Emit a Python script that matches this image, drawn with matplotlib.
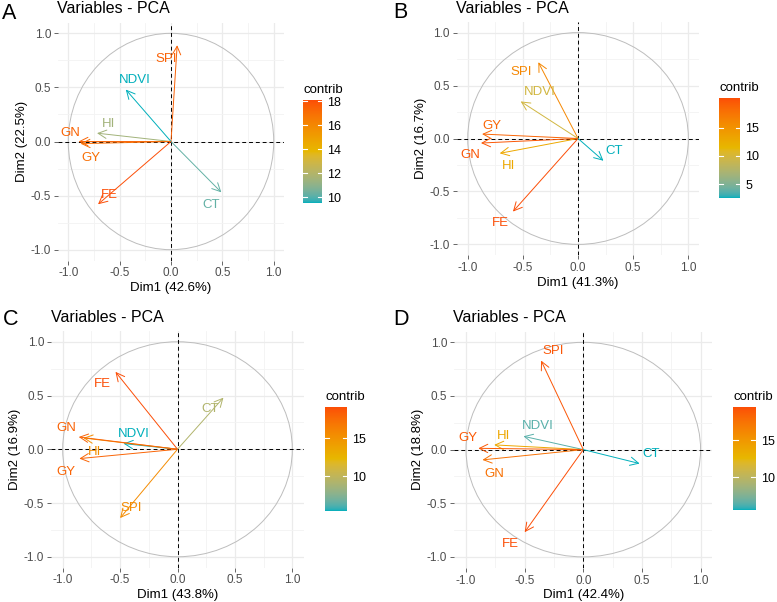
import numpy as np
import matplotlib
matplotlib.use("Agg")
import matplotlib.pyplot as plt
import matplotlib.colors as mcolors
from matplotlib.patches import Circle

plt.rcParams['font.family'] = ['Liberation Sans', 'DejaVu Sans']

# ---- data ----
variables = ["SPI", "NDVI", "HI", "GN", "GY", "FE", "CT"]

dim1_A = [0.06, -0.44, -0.72, -0.90, -0.88, -0.71, 0.49]
dim2_A = [0.89, 0.48, 0.077, 0.00, -0.02, -0.58, -0.47]
contrib_A = [17.5, 9.5, 11.5, 17.4, 17.0, 18.1, 10.2]

dim1_B = [-0.36, -0.52, -0.71, -0.88, -0.87, -0.59, 0.23]
dim2_B = [0.72, 0.35, -0.14, -0.043, 0.042, -0.69, -0.21]
contrib_B = [16.0, 9.7, 13.0, 19.6, 18.7, 20.2, 2.6]

dim1_C = [-0.50, -0.47, -0.82, -0.86, -0.855, -0.54, 0.40]
dim2_C = [-0.64, 0.053, 0.105, 0.114, -0.087, 0.72, 0.48]
contrib_C = [15.5, 5.4, 15.3, 18.1, 18.0, 19.1, 9.2]

dim1_D = [-0.36, -0.51, -0.76, -0.86, -0.895, -0.50, 0.48]
dim2_D = [0.83, 0.124, 0.044, -0.096, 0.012, -0.77, -0.13]
contrib_D = [19.1, 6.5, 13.9, 17.6, 18.9, 19.5, 5.6]

dim_pct = {"A": (42.6, 22.5), "B": (41.3, 16.7), "C": (43.8, 16.9), "D": (42.4, 18.8)}
cbar_ticks = {"A": [10, 12, 14, 16, 18], "B": [5, 10, 15], "C": [10, 15], "D": [10, 15]}

# label positions (repelled text, data units)
labels_A = [(-0.05, 0.76), (-0.35, 0.57), (-0.61, 0.16), (-0.98, 0.08), (-0.78, -0.15), (-0.60, -0.49), (0.39, -0.59)]
labels_B = [(-0.52, 0.63), (-0.35, 0.44), (-0.63, -0.26), (-0.98, -0.16), (-0.78, 0.12), (-0.70, -0.80), (0.33, -0.12)]
labels_C = [(-0.40, -0.55), (-0.38, 0.14), (-0.72, -0.025), (-0.97, 0.20), (-0.97, -0.21), (-0.65, 0.61), (0.28, 0.37)]
labels_D = [(-0.26, 0.92), (-0.39, 0.22), (-0.68, 0.13), (-0.76, -0.23), (-0.98, 0.11), (-0.62, -0.88), (0.58, -0.04)]

grad_cols = ["#00AFBB", "#E7B800", "#FC4E07"]


# ---- colour gradient interpolated in Lab, like ggplot ----
M = np.array([[0.4124, 0.3576, 0.1805], [0.2126, 0.7152, 0.0722], [0.0193, 0.1192, 0.9505]])
WHITE = np.array([0.95047, 1.0, 1.08883])


def to_lab(c):
    rgb = np.array(mcolors.to_rgb(c))
    lin = np.where(rgb > 0.04045, ((rgb + 0.055) / 1.055) ** 2.4, rgb / 12.92)
    xyz = M @ lin / WHITE
    f = np.where(xyz > 0.008856, np.cbrt(xyz), 7.787 * xyz + 16 / 116)
    return np.array([116 * f[1] - 16, 500 * (f[0] - f[1]), 200 * (f[1] - f[2])])


def from_lab(lab):
    fy = (lab[0] + 16) / 116
    f = np.array([fy + lab[1] / 500, fy, fy - lab[2] / 200])
    xyz = np.where(f ** 3 > 0.008856, f ** 3, (f - 16 / 116) / 7.787) * WHITE
    lin = np.linalg.solve(M, xyz)
    lin = np.clip(lin, 0, 1)
    rgb = np.where(lin > 0.0031308, 1.055 * lin ** (1 / 2.4) - 0.055, 12.92 * lin)
    return np.clip(rgb, 0, 1)


labs = [to_lab(c) for c in grad_cols]
samples = []
for t in np.linspace(0, 1, 256):
    s = t * (len(labs) - 1)
    i = min(int(s), len(labs) - 2)
    w = s - i
    samples.append(from_lab(labs[i] * (1 - w) + labs[i + 1] * w))
cmap = mcolors.ListedColormap(samples)

# ---- figure ----
W, H = 777, 602
fig = plt.figure(figsize=(W / 100, H / 100), dpi=100)


def px_axes(left, top, w, h):
    return fig.add_axes([left / W, 1 - (top + h) / H, w / W, h / H])


panels = [
    ("A", dim1_A, dim2_A, contrib_A, labels_A, (58, 22.5, 226, 238), (303, 100, 19, 103), (2, 19.3), (57, 12.7)),
    ("B", dim1_B, dim2_B, contrib_B, labels_B, (456.7, 22, 242.7, 233), (719, 98, 21, 100), (393, 18.3), (456, 13.3)),
    ("C", dim1_C, dim2_C, contrib_C, labels_C, (51.2, 331, 252.6, 236.5), (325, 407, 22, 104), (3, 325), (51, 321.7)),
    ("D", dim1_D, dim2_D, contrib_D, labels_D, (454.3, 331.6, 258, 236), (733, 407, 23, 103), (393, 325), (453, 321.7)),
]

for tag, xs, ys, cons, labpos, rect, crect, letter_xy, title_xy in panels:
    ax = px_axes(*rect)
    vmin, vmax = min(cons), max(cons)
    norm = mcolors.Normalize(vmin, vmax)

    ax.set_xlim(-1.1, 1.1)
    ax.set_ylim(-1.1, 1.1)
    major = [-1.0, -0.5, 0.0, 0.5, 1.0]
    ax.set_xticks(major)
    ax.set_yticks(major)
    ax.set_xticklabels([f"{v:.1f}" for v in major])
    ax.set_yticklabels([f"{v:.1f}" for v in major])
    ax.set_xticks([-0.75, -0.25, 0.25, 0.75], minor=True)
    ax.set_yticks([-0.75, -0.25, 0.25, 0.75], minor=True)
    ax.grid(which="major", color="#EBEBEB", lw=0.9)
    ax.grid(which="minor", color="#F3F3F3", lw=0.6)
    ax.set_axisbelow(True)
    for sp in ax.spines.values():
        sp.set_visible(False)
    ax.tick_params(which="major", length=3, width=0.6, color="#4D4D4D",
                   labelcolor="#4D4D4D", labelsize=8.5, pad=2)
    ax.tick_params(which="minor", length=0)

    ax.add_patch(Circle((0, 0), 1, fill=False, ec="#BDBDBD", lw=0.7))
    ax.axhline(0, color="black", lw=0.7, ls=(0, (4, 3)))
    ax.axvline(0, color="black", lw=0.7, ls=(0, (4, 3)))

    for name, x, y, c, (lx, ly) in zip(variables, xs, ys, cons, labpos):
        col = cmap(norm(c))
        ax.annotate("", xy=(x, y), xytext=(0, 0),
                    arrowprops=dict(arrowstyle="->,head_length=0.6,head_width=0.3",
                                    color=col, lw=0.7, shrinkA=0, shrinkB=0,
                                    mutation_scale=10))
        ax.text(lx, ly, name, color=col, ha="center", va="center", fontsize=9.5)

    p1, p2 = dim_pct[tag]
    ax.set_xlabel(f"Dim1 ({p1}%)", fontsize=9.5, color="black", labelpad=2)
    ax.set_ylabel(f"Dim2 ({p2}%)", fontsize=9.5, color="black", labelpad=2)

    fig.text(letter_xy[0] / W, 1 - letter_xy[1] / H, tag, fontsize=15.5, va="baseline", ha="left")
    fig.text(title_xy[0] / W, 1 - title_xy[1] / H, "Variables - PCA", fontsize=11.5,
             va="baseline", ha="left")

    # colour bar
    cax = px_axes(*crect)
    grad = np.linspace(vmin, vmax, 256).reshape(-1, 1)
    cax.imshow(grad, cmap=cmap, norm=norm, aspect="auto", origin="lower",
               extent=[0, 1, vmin, vmax])
    for t in cbar_ticks[tag]:
        cax.plot([0, 0.2], [t, t], color="white", lw=0.8)
        cax.plot([0.8, 1], [t, t], color="white", lw=0.8)
    cax.set_xlim(0, 1)
    cax.set_ylim(vmin, vmax)
    cax.set_xticks([])
    cax.yaxis.tick_right()
    cax.set_yticks(cbar_ticks[tag])
    cax.tick_params(length=0, labelsize=9, pad=4)
    for sp in cax.spines.values():
        sp.set_visible(False)
    cax.set_title("contrib", loc="left", fontsize=9.5, pad=5)

fig.savefig("out.png", dpi=100)
